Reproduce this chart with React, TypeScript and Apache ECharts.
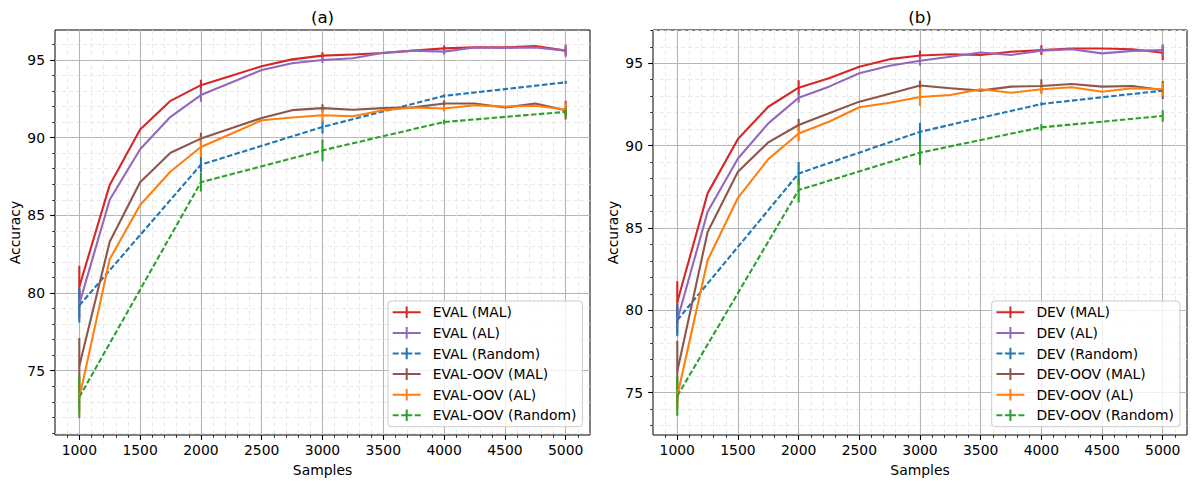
import React, { useEffect, useRef } from "react";
import * as echarts from "echarts";

// ---------- data ----------
const XS = [1000, 1250, 1500, 1750, 2000, 2250, 2500, 2750, 3000, 3250, 3500, 3750, 4000, 4250, 4500, 4750, 5000];
const XS_RANDOM = [1000, 2000, 3000, 4000, 5000];
const XS_ERR = [1000, 2000, 3000, 4000, 5000];

const X_TICKS = [1000, 1500, 2000, 2500, 3000, 3500, 4000, 4500, 5000];
const Y_TICKS = [75, 80, 85, 90, 95];

const NAMES_A = ["EVAL (MAL)", "EVAL (AL)", "EVAL (Random)", "EVAL-OOV (MAL)", "EVAL-OOV (AL)", "EVAL-OOV (Random)"];
const NAMES_B = ["DEV (MAL)", "DEV (AL)", "DEV (Random)", "DEV-OOV (MAL)", "DEV-OOV (AL)", "DEV-OOV (Random)"];

// panel (a)
const A_MAL = [80.4, 86.96, 90.52, 92.37, 93.38, 93.98, 94.6, 95.04, 95.28, 95.35, 95.45, 95.6, 95.75, 95.81, 95.81, 95.9, 95.6];
const A_AL = [79.3, 86.0, 89.25, 91.34, 92.74, 93.55, 94.35, 94.79, 95.0, 95.11, 95.47, 95.6, 95.54, 95.8, 95.78, 95.8, 95.6];
const A_RANDOM = [79.2, 88.26, 90.69, 92.69, 93.56];
const A_OOV_MAL = [75.3, 83.3, 87.13, 89.03, 89.94, 90.6, 91.27, 91.77, 91.9, 91.8, 91.9, 91.95, 92.2, 92.2, 91.94, 92.2, 91.77];
const A_OOV_AL = [73.25, 82.18, 85.67, 87.82, 89.4, 90.25, 91.12, 91.3, 91.44, 91.38, 91.77, 91.94, 91.88, 92.09, 92.0, 92.05, 91.81];
const A_OOV_RANDOM = [73.3, 87.13, 89.18, 91.01, 91.66];

const A_MAL_ERR = [1.35, 0.35, 0.22, 0.18, 0.3];
const A_AL_ERR = [0.9, 0.43, 0.2, 0.2, 0.4];
const A_RANDOM_ERR = [1.1, 0.5, 0.43, 0.1, 0.1];
const A_OOV_MAL_ERR = [1.8, 0.38, 0.25, 0.2, 0.6];
const A_OOV_AL_ERR = [0.8, 0.65, 0.43, 0.2, 0.45];
const A_OOV_RANDOM_ERR = [1.35, 0.6, 0.7, 0.15, 0.3];

// panel (b)
const B_MAL = [80.5, 87.1, 90.4, 92.36, 93.52, 94.09, 94.79, 95.25, 95.47, 95.55, 95.5, 95.7, 95.8, 95.9, 95.9, 95.85, 95.64];
const B_AL = [79.4, 85.98, 89.22, 91.35, 92.91, 93.58, 94.39, 94.85, 95.15, 95.4, 95.65, 95.5, 95.77, 95.85, 95.6, 95.75, 95.8];
const B_RANDOM = [79.4, 88.31, 90.84, 92.53, 93.34];
const B_OOV_MAL = [76.3, 84.76, 88.41, 90.2, 91.25, 91.96, 92.67, 93.15, 93.65, 93.48, 93.34, 93.58, 93.62, 93.74, 93.58, 93.62, 93.38];
const B_OOV_AL = [74.8, 83.04, 86.83, 89.18, 90.74, 91.45, 92.33, 92.6, 92.95, 93.07, 93.42, 93.21, 93.42, 93.54, 93.27, 93.48, 93.42];
const B_OOV_RANDOM = [74.8, 87.3, 89.57, 91.11, 91.8];

const B_MAL_ERR = [1.27, 0.45, 0.3, 0.3, 0.45];
const B_AL_ERR = [0.8, 0.3, 0.3, 0.2, 0.35];
const B_RANDOM_ERR = [0.97, 0.7, 0.55, 0.1, 0.1];
const B_OOV_MAL_ERR = [1.85, 0.38, 0.3, 0.4, 0.55];
const B_OOV_AL_ERR = [0.8, 0.48, 0.55, 0.3, 0.4];
const B_OOV_RANDOM_ERR = [1.2, 0.75, 0.75, 0.2, 0.35];

const COLORS = ["#d62728", "#9467bd", "#1f77b4", "#8c564b", "#ff7f0e", "#2ca02c"];
const DASHED = [false, false, true, false, false, true];

// ---------- styling ----------
const FONT = "DejaVu Sans";
const FS = 13.9;
const SOLID_ICON = "path://M0,6H28V8H0Z M13,1.2H15V12.8H13Z";
const DASH_ICON = "path://M0,6H6V8H0Z M8.5,6H19.5V8H8.5Z M22,6H28V8H22Z M13,1.2H15V12.8H13Z";

function minorTicks(lo: number, hi: number, step: number, majors: number[]) {
  const out: number[] = [];
  for (let v = Math.ceil(lo / step) * step; v <= hi + 1e-9; v += step) {
    const r = Math.round(v * 1000) / 1000;
    if (!majors.includes(r)) out.push(r);
  }
  return out;
}

type Panel = {
  names: string[];
  xs: number[][];
  ys: number[][];
  errs: number[][];
  yMin: number;
  yMax: number;
  grid: { left: number; width: number };
  legendLeft: number;
  title: string;
};

const PANELS: Panel[] = [
  {
    names: NAMES_A,
    xs: [XS, XS, XS_RANDOM, XS, XS, XS_RANDOM],
    ys: [A_MAL, A_AL, A_RANDOM, A_OOV_MAL, A_OOV_AL, A_OOV_RANDOM],
    errs: [A_MAL_ERR, A_AL_ERR, A_RANDOM_ERR, A_OOV_MAL_ERR, A_OOV_AL_ERR, A_OOV_RANDOM_ERR],
    yMin: 70.86,
    yMax: 96.93,
    grid: { left: 55, width: 535 },
    legendLeft: 388,
    title: "(a)",
  },
  {
    names: NAMES_B,
    xs: [XS, XS, XS_RANDOM, XS, XS, XS_RANDOM],
    ys: [B_MAL, B_AL, B_RANDOM, B_OOV_MAL, B_OOV_AL, B_OOV_RANDOM],
    errs: [B_MAL_ERR, B_AL_ERR, B_RANDOM_ERR, B_OOV_MAL_ERR, B_OOV_AL_ERR, B_OOV_RANDOM_ERR],
    yMin: 72.43,
    yMax: 97.02,
    grid: { left: 653, width: 534 },
    legendLeft: 991.7,
    title: "(b)",
  },
];

const X_MIN = 800;
const X_MAX = 5200;
const GRID_TOP = 30;
const GRID_H = 405;

function buildOption() {
  const grids: any[] = [];
  const xAxes: any[] = [];
  const yAxes: any[] = [];
  const series: any[] = [];
  const legends: any[] = [];
  const graphics: any[] = [];

  PANELS.forEach((p) => {
    grids.push({
      left: p.grid.left,
      top: GRID_TOP,
      width: p.grid.width,
      height: GRID_H,
      show: true,
      borderColor: "#000",
      borderWidth: 1,
      containLabel: false,
      outerBoundsMode: "none",
    });
  });
  // minor axes first (drawn below), then major axes
  PANELS.forEach((p, pi) => {
    xAxes.push({
      type: "value",
      gridIndex: pi,
      position: "bottom",
      offset: 0,
      min: X_MIN,
      max: X_MAX,
      minInterval: 100,
      maxInterval: 100,
      axisLine: { show: false },
      axisTick: {
        show: true,
        length: 2.8,
        lineStyle: { color: "#000", width: 0.8 },
        customValues: minorTicks(X_MIN + 1, X_MAX - 1, 100, X_TICKS),
      },
      axisLabel: { show: false },
      splitLine: { show: true, lineStyle: { color: "#e6e6e6", width: 0.9, type: [4, 3] } },
    });
    yAxes.push({
      type: "value",
      gridIndex: pi,
      position: "left",
      offset: 0,
      min: p.yMin,
      max: p.yMax,
      minInterval: 1,
      maxInterval: 1,
      axisLine: { show: false },
      axisTick: {
        show: true,
        length: 2.8,
        lineStyle: { color: "#000", width: 0.8 },
        customValues: minorTicks(p.yMin, p.yMax, 1, Y_TICKS),
      },
      axisLabel: { show: false },
      splitLine: { show: true, lineStyle: { color: "#e6e6e6", width: 0.9, type: [4, 3] } },
    });
  });
  PANELS.forEach((p, pi) => {
    xAxes.push({
      type: "value",
      gridIndex: pi,
      position: "bottom",
      offset: 0,
      min: X_MIN,
      max: X_MAX,
      minInterval: 500,
      maxInterval: 500,
      name: "Samples",
      nameLocation: "middle",
      nameGap: 28,
      nameTextStyle: { fontSize: FS, color: "#000", fontFamily: FONT },
      axisLine: { show: false },
      axisTick: {
        show: true,
        length: 4.9,
        lineStyle: { color: "#000", width: 1.1 },
        customValues: X_TICKS,
      },
      axisLabel: {
        show: true,
        customValues: X_TICKS,
        margin: 8,
        fontSize: FS,
        color: "#000",
        fontFamily: FONT,
        formatter: (v: number) => String(v),
      },
      splitLine: { show: true, lineStyle: { color: "#b5b5b5", width: 1.1 } },
    });
    yAxes.push({
      type: "value",
      gridIndex: pi,
      position: "left",
      offset: 0,
      min: p.yMin,
      max: p.yMax,
      minInterval: 5,
      maxInterval: 5,
      name: "Accuracy",
      nameLocation: "middle",
      nameGap: 33,
      nameTextStyle: { fontSize: FS, color: "#000", fontFamily: FONT },
      axisLine: { show: false },
      axisTick: {
        show: true,
        length: 4.9,
        lineStyle: { color: "#000", width: 1.1 },
        customValues: Y_TICKS,
      },
      axisLabel: {
        show: true,
        customValues: Y_TICKS,
        margin: 10,
        fontSize: FS,
        color: "#000",
        fontFamily: FONT,
        formatter: (v: number) => String(v),
      },
      splitLine: { show: true, lineStyle: { color: "#b5b5b5", width: 1.1 } },
    });
  });

  PANELS.forEach((p, pi) => {
    const axisIdx = PANELS.length + pi;
    p.names.forEach((name, si) => {
      const color = COLORS[si];
      const xs = p.xs[si];
      const ys = p.ys[si];
      series.push({
        type: "line",
        name,
        xAxisIndex: axisIdx,
        yAxisIndex: axisIdx,
        data: xs.map((x, i) => [x, ys[i]]),
        showSymbol: false,
        symbol: "none",
        silent: true,
        itemStyle: { color },
        lineStyle: { color, width: 2.1, type: DASHED[si] ? [5.5, 2.4] : "solid", join: "round", cap: "butt" },
        z: 2,
      });
      const errData = XS_ERR.map((x, i) => {
        const idx = xs.indexOf(x);
        const m = ys[idx];
        const e = p.errs[si][i];
        return [x, m - e, m + e];
      });
      series.push({
        type: "custom",
        name: name + " err",
        xAxisIndex: axisIdx,
        yAxisIndex: axisIdx,
        data: errData,
        silent: true,
        encode: { x: 0, y: [1, 2] },
        z: 2,
        renderItem: (params: any, api: any) => {
          const x = api.value(0);
          const p1 = api.coord([x, api.value(1)]);
          const p2 = api.coord([x, api.value(2)]);
          return {
            type: "line",
            shape: { x1: p1[0], y1: p1[1], x2: p2[0], y2: p2[1] },
            style: { stroke: color, lineWidth: 2.1, lineCap: "butt" },
          };
        },
      });
    });

    legends.push({
      data: p.names.map((n, i) => ({ name: n, icon: DASHED[i] ? DASH_ICON : SOLID_ICON })),
      orient: "vertical",
      left: p.legendLeft,
      top: 301,
      itemWidth: 28,
      itemHeight: 14,
      itemGap: 6.6,
      symbolKeepAspect: true,
      selectedMode: false,
      padding: [4.3, 6, 4.4, 4.7],
      backgroundColor: "rgba(255,255,255,0.8)",
      borderColor: "#cccccc",
      borderWidth: 1,
      borderRadius: 3,
      itemStyle: { borderWidth: 0 },
      textStyle: { fontSize: FS, color: "#000", fontFamily: FONT, padding: [0, 0, 0, 7] },
    });

    graphics.push({
      type: "text",
      x: p.grid.left + p.grid.width / 2,
      y: 17,
      style: {
        text: p.title,
        fontSize: 16.7,
        fontFamily: FONT,
        fill: "#000",
        textAlign: "center",
        textVerticalAlign: "middle",
      },
    });
  });

  return {
    animation: false,
    backgroundColor: "#fff",
    grid: grids,
    xAxis: xAxes,
    yAxis: yAxes,
    series,
    legend: legends,
    graphic: graphics,
    tooltip: { show: false },
  };
}

export default function App() {
  const ref = useRef<HTMLDivElement>(null);
  useEffect(() => {
    document.body.style.margin = "0";
    if (!ref.current) return;
    const chart = echarts.init(ref.current, undefined, { renderer: "svg" });
    chart.setOption(buildOption() as any);
    return () => chart.dispose();
  }, []);
  return <div ref={ref} style={{ width: 1192, height: 481 }} />;
}
